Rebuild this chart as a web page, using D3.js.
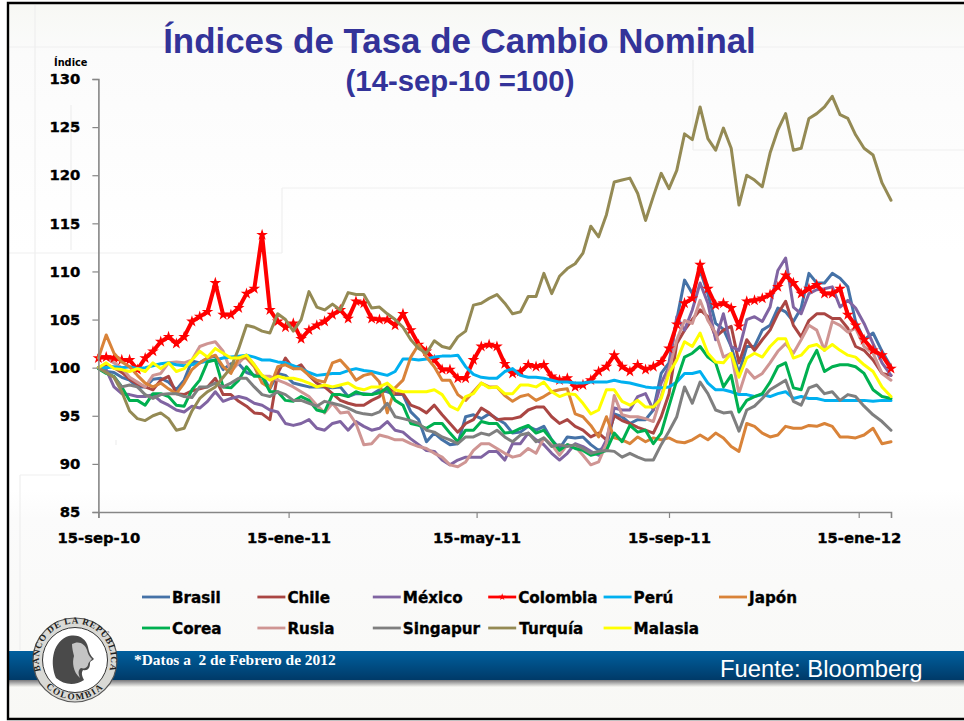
<!DOCTYPE html>
<html lang="es"><head><meta charset="utf-8">
<style>html,body{margin:0;padding:0;background:#fff}svg{display:block}</style>
<script src="https://cdnjs.cloudflare.com/ajax/libs/d3/7.8.5/d3.min.js"></script>
</head><body><svg id="c" width="964" height="721"></svg>
<script>
const brasil=[100,99.6,99.5,99,98.7,98,98,98.8,98.9,98.5,97.7,98.7,100.7,100.5,101,101.2,99.8,100.4,100.4,99.5,99.2,99.2,97.8,99.4,99.2,
98.4,98.2,98,98,98,97.9,98,97,97.3,97.3,97.2,97.7,97.5,97.2,97.2,95.4,94.6,92.3,93.2,92.5,92,92.1,94.9,95.1,94.7,95.2,
94.7,94.2,93.2,93.3,93.9,93.5,93.9,92.5,91.6,92.8,92.7,92.8,92,91.4,91.8,95.2,94.9,94.2,94.6,94.6,95.6,
99.4,100.5,105,109.1,107.7,110.1,107.7,104.6,104,102.2,99.4,102.2,102.2,103.9,104.4,106.2,105.8,104.8,106.2,109.8,108.8,108.8,109.8,109.3,108.4,104.8,102.9,103.6,101.7,100.1];
const chile=[100,100.3,100,99.5,98.8,98.3,98,97.7,98.7,99.1,97.3,97.2,97.6,97.8,98,98.9,97.2,97.2,96.5,96,95.3,95.2,94.6,99.4,101,
99.9,100.3,99.2,98.4,98,97.3,96.6,96.3,96.1,96.1,96.6,97,98,97.3,97.3,96.1,95.8,95.3,96.1,95.1,94.2,93.3,94.2,94.6,95.8,95.3,
94.6,94.7,94.7,94.9,95.6,95.9,95.9,94.9,94.2,94.6,93.9,93.5,92.8,93.2,92.5,95,94.5,94.2,93.8,93.5,93.2,
94.9,97.3,102.5,103.9,105,106,105.3,103.2,103.9,104.3,100.5,102.9,101.8,102.9,103.9,105.6,106.9,104.4,103.2,104.9,105.6,105.6,105.1,105.1,104.1,102.2,101.8,100.8,99.4,99.2];
const mexico=[100,99.8,98,97.3,97.2,97,97,97.2,96.5,96.1,95.6,95.4,96,95.8,96.5,97.5,96.5,96.8,97,96.8,96.3,96.1,95.6,95.4,94.2,
94,94.2,94.6,93.7,93.5,94.2,94.4,93.5,94.4,93.9,93.5,93.7,94.4,93.5,93.3,92.6,92,91.4,91.3,90.4,89.9,90.4,90.7,90.7,90.7,91.3,
91.3,90.4,92.1,92.1,93.2,92.5,92,91.1,90.4,91.1,92.1,91.8,91.3,90.9,92.5,95.8,95.6,95.6,97,97.3,95.6,
98.4,100.1,105.3,103.9,106,108.8,106.7,102.9,105.6,102.2,101.8,105,105.3,104.8,106.3,110.1,111.4,106.3,105.6,107.7,108.1,108.2,108.4,106.3,107,106.2,104.6,102.5,100.5,99.2];
const colombia=[101,101.1,101,100.8,100.8,99.8,101,101.7,102.7,103.2,102.5,103.2,104.8,105.3,105.8,108.8,105.5,105.5,106.2,107.7,108.2,113.8,106,104.8,104.2,
104.6,103,103.9,104.4,104.8,105.5,106,105.1,106.9,106.7,105.1,105,105,104.4,105.6,103.9,102.4,101.7,100.8,99.8,99.8,98.9,98.9,100.8,102.2,102.4,
102.2,100.4,99.4,99.6,100.3,100.1,100.3,99.1,98.7,98.9,98,98.2,98.7,99.6,100.1,101.3,100.1,99.6,100.3,99.8,100.1,
100.6,102,104.5,106.7,107.2,110.7,108.2,106.5,106.7,106.2,104.3,106.9,107,107.2,107.6,108.4,109.6,108.8,107.7,108.2,108.6,107.7,107.7,108.2,105.5,104.4,102.9,101.8,101.3,99.9];
const peru=[100,100,100.1,100,100.1,99.9,100,100.2,100.4,100.5,100.3,100.2,100.3,100.5,100.7,100.8,101,101.1,101.2,101.3,101.1,100.8,100.8,100.6,100.5,
100.2,99.9,99.5,99.2,99.3,99.4,99.4,99.7,99.9,99.7,99.6,99.4,99.2,99.6,100.9,100.9,100.8,100.9,101.1,101.2,101.2,101.3,100.1,99.3,99,98.9,
98.9,99.6,99.9,99.2,99,99,98.9,98.7,98.5,98.5,98.4,98.4,98.5,98.5,98.5,98.7,98.5,98.4,98.2,98,97.9,
97.9,98,98.5,99.4,99.4,99.6,98.4,97.7,97.7,97.5,97.2,97.2,97,97.2,97,97.3,97.5,96.8,97,96.8,96.8,96.6,96.6,96.6,96.6,96.6,96.6,96.5,96.6,96.6];
const japon=[101,103.4,101.5,100.6,100.1,99.2,98.4,98,98.4,97.8,97.3,98.4,99.8,100.5,101,101.3,100.1,99.4,101,101,100.1,98.4,97.9,100.1,100.3,
99.9,99.9,99.2,98.7,98.5,100.5,100.8,99.9,98.7,99.2,99.4,98.5,95.3,97.9,98.7,101.1,102.4,101.1,100.1,98.7,98.7,97.2,96.6,97.5,98.4,98,
98,97.1,96.5,97,97.2,96.6,97,97.5,97.7,97.8,95.2,94.9,94,92.8,94.9,92.7,92.5,92.1,92.8,92.3,92.7,
92.5,92.7,92.3,92.2,92.5,93,92.5,93.2,92.7,91.8,91.3,94.2,93.9,93.2,92.8,93,93.9,93.7,93.7,94,93.9,94.2,93.9,92.8,92.8,92.7,93,93.7,92.1,92.3];
const corea=[99.9,99.4,99.1,98,96.6,96.6,96.1,97.3,97.3,97,96.1,96,97.7,98.7,100.6,100.8,98,97.9,98.7,100.1,99.1,99.1,97.5,97.5,96.6,
96.5,97,96.6,95.6,95.4,97.2,97.2,97,97.5,97.2,97.2,97.4,97.9,96.6,96.1,94.2,94,93.7,94.2,94.2,93.2,92.3,93.5,93.5,94.4,94.2,
94.2,93.2,93.3,93.7,94,93.2,93.5,92.5,91.4,92,91.6,91.4,90.9,91.1,91.4,93.2,92.3,94,93.3,93.5,92.1,
93.2,96,98.7,101.1,101.5,102.2,101.1,100.5,98,99.2,95.4,96.6,97,97.3,98.5,100.1,100.5,97.9,97.7,100.3,101.8,99.6,100.1,100.3,100.3,100.1,99.4,97.7,97,96.8];
const rusia=[101.3,101,100.5,100,99,98.5,98,99.2,99.4,100.5,100.6,100.5,100.8,102.2,102.5,102.7,101.7,99.6,100.5,101.3,100.3,99.1,99.1,98.7,98.4,
98,97.5,97,96.1,95.3,96.3,95.3,95.4,94.2,92,92.1,93,92.8,92.5,92.5,92.1,91.8,91.6,91.1,90.7,89.9,89.7,90.2,91.4,92.1,92.1,
91.6,91.1,90.7,90.9,91.6,91.1,92.7,92,90.9,92,91.8,90.9,89.9,90.2,92.1,97.1,95.1,94.9,94.9,94.7,94.4,
97,99.8,102.9,104.9,104.6,107,104.9,103.6,101.1,101.5,97.3,99.8,98.9,99.4,100.5,101.7,102.5,101.5,102.9,104.4,103.9,101.8,104.8,104.4,103.7,104.1,102.2,101.5,99.4,98.7];
const singapur=[100,99.5,99,98,98.2,98,97.2,96.8,97.2,97.3,97.3,97,96.9,98,98,98.4,98,98.4,98.9,98.9,98,97.2,97,97.5,97.2,
96.6,96.6,96.3,96,96.5,96.3,96.1,95.8,95.4,95.2,95.1,95.4,96.3,94.9,94.7,94.5,94.2,93.5,93.3,92.8,92.5,92.1,92.8,92.8,93.2,93,
93.5,92.8,92.3,93,93.2,92.3,92.7,91.8,92,91.8,92,91.6,91.1,91.3,91.4,91.3,90.7,91.1,90.7,90.4,90.4,
92,93.4,94.9,98,96.3,98.5,97.3,95.6,95.3,95.4,93.4,95.6,96,96.8,97.7,98.2,98.7,96.5,96.1,97.9,98.2,97.3,97.5,96.6,97.2,97,96,95.1,94.4,93.5];
const turquia=[100,99.5,99,97.5,95.5,94.7,94.5,95,95.3,94.7,93.5,93.7,95.5,96.8,97.5,98,99,100,102,104.4,104.2,103.8,103.6,105.6,105,
103.8,105,107.9,106.3,106,106.6,106,107.8,107.6,107.6,106.2,106.3,105.6,105,104.2,102.9,102,101.5,102.8,102.2,102,103.2,103.8,106.5,106.7,107.2,
107.6,106.7,105.6,105.8,107.4,107.4,109.8,107.7,109.5,110.3,110.8,111.9,114.7,113.6,115.9,119.3,119.5,119.7,118.1,115.3,117.8,
120.2,118.6,120.5,124.3,123.7,127.1,123.8,122.6,124.9,122.8,116.9,120,119.5,118.8,122.3,124.7,126.4,122.6,122.8,125.9,126.4,127.1,128.2,126.3,125.9,124.2,122.8,122.1,119.2,117.4];
const malasia=[100,100.5,99.9,99.8,99.6,99.9,99.6,100.5,99.9,100.5,99.6,99.9,100.8,101.7,101.1,102,101.5,101,101,101.3,100.3,99.2,98.7,99.1,98.9,
98.9,98.7,98.4,98,98.2,98,98.2,98.4,97.9,97.7,98,98,98.4,97.7,97.5,97.5,97.5,97.5,97.7,97.2,96,95.6,97,97.3,98.4,97.9,
98,97.3,97.3,98.2,98.2,98,98.5,97.5,97,97.3,97.2,96.3,95.2,95.6,97.7,97.7,96.5,96.1,96.6,95.9,95.9,
96.8,99.4,100.8,102.7,102.2,103.6,101.5,100.6,100.5,101.5,99,101,101.5,101.1,102.2,103,103,101,101.3,102.2,102.4,101.8,102.4,101.8,101.3,101.1,100.3,99.6,98,97];

const nombres=["Brasil","Chile","México","Colombia","Perú","Japón","Corea","Rusia","Singapur","Turquía","Malasia"];
const valores=[brasil,chile,mexico,colombia,peru,japon,corea,rusia,singapur,turquia,malasia];
const colores=["#4572A7","#AA4643","#8064A2","#FF0000","#00B0F0","#D98339","#00B050","#CF9593","#7F7F7F","#948A54","#FFFF00"];
const ordenDibujo=["Brasil","Chile","México","Rusia","Colombia","Perú","Japón","Corea","Singapur","Turquía","Malasia"];
const yTicks=[85,90,95,100,105,110,115,120,125,130];
const xTickFechas=["2010-09-15","2011-01-15","2011-05-15","2011-09-15","2012-01-15"];
const xTickTextos=["15-sep-10","15-ene-11","15-may-11","15-sep-11","15-ene-12"];
const fechaFin="2012-02-02";

const fecha=s=>{const [a,m,d]=s.split("-").map(Number);return new Date(a,m-1,d)};
const fechas=d3.timeDay.range(fecha(xTickFechas[0]),d3.timeDay.offset(fecha(fechaFin),1),5);

const svg=d3.select("#c");
const x=d3.scaleTime().domain([...xTickFechas,fechaFin].map(fecha)).range([98.4,288.6,476.6,669,858.7,891]);
const y=d3.scaleLinear().domain([85,130]).range([512,79]);

const defs=svg.append("defs");
const gBand=defs.append("linearGradient").attr("id","band").attr("x1",0).attr("x2",0).attr("y1",0).attr("y2",1);
gBand.append("stop").attr("offset",0).attr("stop-color","#00609f");
gBand.append("stop").attr("offset",1).attr("stop-color","#003a68");
const gSh=defs.append("linearGradient").attr("id","sh").attr("x1",0).attr("x2",0).attr("y1",0).attr("y2",1);
gSh.append("stop").attr("offset",0).attr("stop-color","#77777a");
gSh.append("stop").attr("offset",1).attr("stop-color","#f7f7f3");
const gBg=defs.append("linearGradient").attr("id","bg").attr("x1",0).attr("x2",0).attr("y1",0).attr("y2",1);
gBg.append("stop").attr("offset",0).attr("stop-color","#f7f8f4");
gBg.append("stop").attr("offset",.07).attr("stop-color","#fbfbfb");
gBg.append("stop").attr("offset",.35).attr("stop-color","#ffffff");
gBg.append("stop").attr("offset",.68).attr("stop-color","#ffffff");
gBg.append("stop").attr("offset",.72).attr("stop-color","#fbfbfb");
gBg.append("stop").attr("offset",1).attr("stop-color","#f8f8f5");

svg.append("rect").attr("width",964).attr("height",721).attr("fill","#fff");
svg.append("rect").attr("x",8).attr("y",3).attr("width",956).attr("height",716).attr("fill","url(#bg)");

// líneas tenues de fondo
const fondo=[[9,47,964,47],[35,5,35,370],[71,105,71,250],[9,253,282,253],[282,188,282,253],[282,188,964,188],[693,60,693,150],[693,150,964,150],[20,475,20,650],[20,475,70,475],[116,440,116,445]];
svg.append("g").selectAll("line").data(fondo).join("line")
 .attr("x1",d=>d[0]).attr("y1",d=>d[1]).attr("x2",d=>d[2]).attr("y2",d=>d[3])
 .attr("stroke","#efefef").attr("stroke-width",1.2);

// series
const linea=d3.line().x((d,i)=>x(fechas[i])).y(d=>y(d));
const gs=svg.append("g").attr("fill","none").attr("stroke-linejoin","round").attr("stroke-linecap","round");
ordenDibujo.forEach(n=>{
  const k=nombres.indexOf(n);
  gs.append("path").datum(valores[k]).attr("d",linea).attr("stroke",colores[k]).attr("stroke-width",n==="Colombia"?4:3);
  if(n==="Colombia"){
    gs.selectAll("path.m").data(valores[k]).join("path").attr("class","m")
      .attr("d",d3.symbol(d3.symbolStar,42))
      .attr("transform",(d,i)=>`translate(${x(fechas[i])},${y(d)})`)
      .attr("fill",colores[k]).attr("stroke","none");
  }
});

// ejes
const fuente='"DejaVu Sans",sans-serif';
const ax=svg.append("g").attr("transform","translate(98.4,0)")
  .call(d3.axisLeft(y).tickValues(yTicks).tickSize(6).tickPadding(12).tickFormat(d3.format("d")));
const bx=svg.append("g").attr("transform","translate(0,512)")
  .call(d3.axisBottom(x).tickValues(xTickFechas.map(fecha)).tickSize(6).tickPadding(14).tickFormat((d,i)=>xTickTextos[i]));
[ax,bx].forEach(g=>{
  g.select(".domain").attr("stroke","#868686").attr("stroke-width",1.6);
  g.selectAll(".tick line").attr("stroke","#868686").attr("stroke-width",1.2);
  g.selectAll("text").attr("fill","#000").attr("stroke","#000").attr("stroke-width",.35).attr("font-family",fuente).attr("font-weight",700).attr("font-size",14.8);
});
svg.append("text").text("Índice").attr("x",54).attr("y",66).attr("font-family",fuente).attr("font-weight",700).attr("font-size",9.8).attr("fill","#000");

// títulos
const arial='"Liberation Sans",Arial,sans-serif';
svg.append("text").text("Índices de Tasa de Cambio Nominal").attr("x",459.5).attr("y",53).attr("text-anchor","middle")
 .attr("font-family",arial).attr("font-weight",700).attr("font-size",34.9).attr("fill","#333399");
svg.append("text").text("(14-sep-10 =100)").attr("x",460).attr("y",91).attr("text-anchor","middle")
 .attr("font-family",arial).attr("font-weight",700).attr("font-size",29.3).attr("fill","#333399");

// leyenda
const leg=svg.append("g").selectAll("g").data(nombres).join("g")
  .attr("transform",(d,i)=>`translate(${142+115.4*(i<6?i:i-6)},${i<6?597:628})`);
leg.append("line").attr("x1",0).attr("x2",28).attr("stroke",(d,i)=>colores[i]).attr("stroke-width",2.8);
leg.filter(d=>d==="Colombia").append("path").attr("d",d3.symbol(d3.symbolStar,16)).attr("transform","translate(14,0)").attr("fill","#f00");
leg.append("text").text(d=>d).attr("x",d=>d==="Turquía"?31:30).attr("y",5.5)
  .attr("font-family",fuente).attr("font-weight",700).attr("font-size",15.2).attr("stroke","#000").attr("stroke-width",.35).attr("fill","#000");

// franja inferior
svg.append("rect").attr("x",9).attr("y",680).attr("width",955).attr("height",7).attr("fill","url(#sh)");
svg.append("rect").attr("x",9).attr("y",651).attr("width",955).attr("height",29).attr("fill","url(#band)");
svg.append("text").text("*Datos a  2 de Febrero de 2012").attr("x",134).attr("y",665).style("white-space","pre")
 .attr("font-family",'"Liberation Serif",serif').attr("font-weight",700).attr("font-size",15.4).attr("fill","#fff");
svg.append("text").text("Fuente: Bloomberg").attr("x",720).attr("y",677)
 .attr("font-family",arial).attr("font-size",23.8).attr("fill","#fff");

// sello
const s=svg.append("g").attr("transform","translate(75,660)");
s.append("circle").attr("r",42).attr("fill","#d9d9d5").attr("stroke","#555").attr("stroke-width",1.2);
s.append("circle").attr("r",32.5).attr("fill","#fff").attr("stroke","#333").attr("stroke-width",1);
defs.append("path").attr("id","arcoA").attr("d","M-35,8 A36,36 0 1 1 35,8");
defs.append("path").attr("id","arcoB").attr("d","M-28,28 A39.5,39.5 0 0 0 28,28");
s.append("text").attr("font-family",'"Liberation Serif",serif').attr("font-weight",700).attr("font-size",9.2).attr("letter-spacing",.8).attr("fill","#222")
 .append("textPath").attr("href","#arcoA").attr("startOffset","50%").attr("text-anchor","middle").text("BANCO DE LA REPÚBLICA");
s.append("text").attr("font-family",'"Liberation Serif",serif').attr("font-weight",700).attr("font-size",9.2).attr("letter-spacing",1.6).attr("fill","#222")
 .append("textPath").attr("href","#arcoB").attr("startOffset","50%").attr("text-anchor","middle").text("COLOMBIA");
s.append("path").attr("d","M-19,18 C-25,4 -23,-16 -9,-23 C2,-27 11,-22 13,-13 C14,-8 15,-5 19,-1 C17,1 15,1 15,3 C15,8 13,11 8,10 C6,13 7,16 9,20 C0,26 -11,25 -19,18Z").attr("fill","#4a4a4a");
s.append("path").attr("d","M-3,-16 C4,-20 10,-16 12,-10 C13,-6 14,-4 17,-1 C14,2 13,3 13,5 C12,8 9,9 6,8 C3,10 3,13 5,18 C-2,12 -3,2 -1,-4 C-2,-8 -3,-12 -3,-16Z").attr("fill","#c4c4c4");

// marco
svg.append("path").attr("d","M964,3H8V719H964").attr("fill","none").attr("stroke","#000").attr("stroke-width",2.4);
</script></body></html>
